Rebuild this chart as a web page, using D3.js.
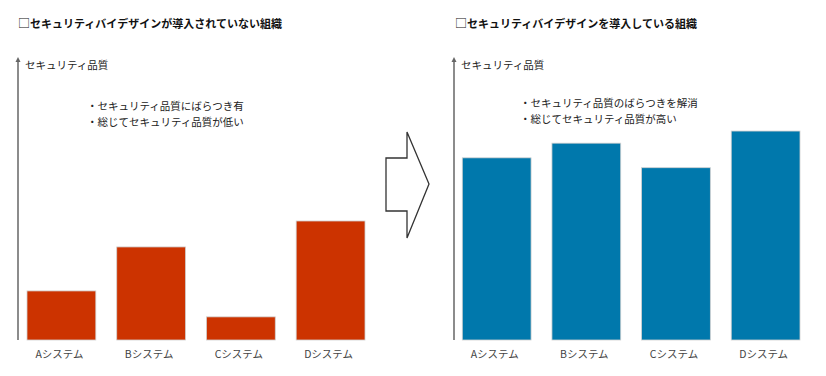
<!DOCTYPE html>
<html><head><meta charset="utf-8">
<script src="https://cdn.jsdelivr.net/npm/d3@7"></script>
<style>
html,body{margin:0;padding:0;background:#fff;}
svg{display:block;font-family:"Noto Sans CJK JP","Noto Sans",sans-serif;}
</style></head><body>
<svg id="c" width="826" height="376"></svg>
<script>
const categories = ["Aシステム","Bシステム","Cシステム","Dシステム"];
const beforeValues = [17.4, 33.0, 8.2, 42.2];
const afterValues = [64.6, 69.8, 61.1, 74.1];
const titleMark = "□";
const titles = ["セキュリティバイデザインが導入されていない組織","セキュリティバイデザインを導入している組織"];
const axisLabel = "セキュリティ品質";
const notesBefore = ["・セキュリティ品質にばらつき有","・総じてセキュリティ品質が低い"];
const notesAfter = ["・セキュリティ品質のばらつきを解消","・総じてセキュリティ品質が高い"];

const svg = d3.select("#c");
const y = d3.scaleLinear().domain([0,100]).range([340,58]);

function panel(cfg){
  const g = svg.append("g");
  const t = g.append("text").attr("x",cfg.tx).attr("y",24).attr("dy","0.35em")
    .attr("font-size",11).attr("fill","#111");
  t.append("tspan").attr("font-family",'"Noto Sans CJK SC","Noto Sans CJK JP",sans-serif')
    .attr("font-weight","normal").attr("font-size",12).text(titleMark);
  t.append("tspan").attr("font-weight","bold").text(cfg.title);
  // vertical axis
  g.append("line").attr("x1",cfg.ax).attr("x2",cfg.ax).attr("y1",y(0)).attr("y2",y(100)+2)
    .attr("stroke","#666").attr("stroke-width",1.5);
  g.append("path").attr("d",`M${cfg.ax-2.5},${y(100)+4} L${cfg.ax},${y(100)-1} L${cfg.ax+2.5},${y(100)+4} Z`)
    .attr("fill","#666");
  g.append("text").attr("x",cfg.ax+7).attr("y",65).attr("dy","0.35em")
    .attr("font-size",10.5).attr("fill","#222").text(axisLabel);
  cfg.notes.forEach((s,i)=>{
    g.append("text").attr("x",cfg.nx).attr("y",cfg.ny+i*16.5).attr("dy","0.35em")
      .attr("font-size",10.5).attr("fill","#222").text(s);
  });
  const x = d3.scaleBand().domain(categories).range(cfg.range).paddingInner(0.233).paddingOuter(0);
  g.selectAll("rect.bar").data(cfg.values).enter().append("rect").attr("class","bar")
    .attr("x",(d,i)=>x(categories[i])).attr("width",x.bandwidth())
    .attr("y",d=>y(d)).attr("height",d=>y(0)-y(d))
    .attr("fill",cfg.color).attr("stroke","#d0d0d0").attr("stroke-width",0.8);
  const ax = g.append("g").attr("transform",`translate(-2,${y(0)})`)
    .call(d3.axisBottom(x).tickSize(0).tickPadding(11));
  ax.select(".domain").remove();
  ax.selectAll("text").attr("font-size",10.5).attr("fill","#444")
    .attr("font-family",'"Noto Sans CJK JP","Noto Sans",sans-serif');
}

panel({title:titles[0],tx:18,ax:18,nx:87,ny:106,notes:notesBefore,values:beforeValues,range:[27,365],color:"#cc3300"});
panel({title:titles[1],tx:455,ax:454,nx:520,ny:103,notes:notesAfter,values:afterValues,range:[462.3,800],color:"#0078ac"});

// big arrow between panels
svg.append("path")
  .attr("d","M386,158 L407,158 L407,132 L429,184 L407,238 L407,211 L386,211 Z")
  .attr("fill","#fff").attr("stroke","#333").attr("stroke-width",1.3).attr("stroke-linejoin","miter");
</script>
</body></html>
